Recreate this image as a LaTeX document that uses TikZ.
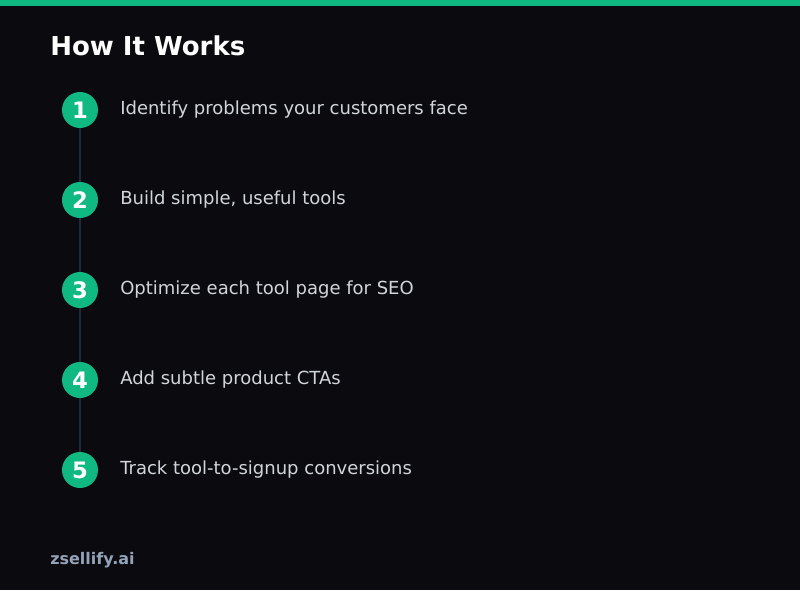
\documentclass[tikz,border=0pt]{standalone}
\usepackage{fontspec}
\setmainfont{DejaVu Sans}
\definecolor{bg}{HTML}{0B0B0F}
\definecolor{accent}{HTML}{10B981}
\definecolor{linec}{HTML}{1F2937}
\definecolor{steptext}{HTML}{D1D5DB}
\definecolor{foot}{HTML}{94A3B8}
\begin{document}
\begin{tikzpicture}[x=0.75pt,y=-0.75pt,
  numcircle/.style={circle,fill=accent,minimum size=27pt,inner sep=0pt,text=white,font=\fontsize{17}{18}\selectfont\bfseries},
  steplabel/.style={anchor=west,text=steptext,inner sep=0pt,font=\fontsize{13.5}{15}\selectfont},
  connector/.style={draw=linec,line width=1.5pt}]
\fill[bg] (0,0) rectangle (800,590);
\useasboundingbox (0,0) rectangle (800,590);
\fill[accent] (0,0) rectangle (800,6);
\node[anchor=west,inner sep=0pt,text=white,font=\fontsize{19.5}{22}\selectfont\bfseries] (title) at (50,46) {How It Works};
\foreach \i in {1,...,5}{
  \coordinate (p\i) at (80,{110+90*(\i-1)});
}
\draw[connector] (p1) -- (p2);
\draw[connector] (p2) -- (p3);
\draw[connector] (p3) -- (p4);
\draw[connector] (p4) -- (p5);
\foreach \i/\t in {1/Identify problems your customers face,2/{Build simple, useful tools},3/Optimize each tool page for SEO,4/Add subtle product CTAs,5/Track tool-to-signup conversions}{
  \node[numcircle] (c\i) at (p\i) {\i};
  \node[steplabel] (s\i) at (120,{110+90*(\i-1)}) {\t};
}
\node[anchor=west,inner sep=0pt,text=foot,font=\fontsize{12}{14}\selectfont\bfseries] (footer) at (50,560) {zsellify.ai};
\end{tikzpicture}
\end{document}
